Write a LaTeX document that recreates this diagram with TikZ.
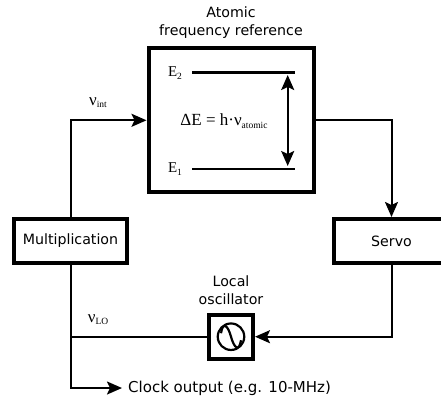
\documentclass[tikz,border=0pt]{standalone}
\usepackage{fontspec}
\setmainfont{DejaVu Sans}
\newfontfamily\levelfont{Liberation Serif}
\usepackage{tikz}
\usetikzlibrary{arrows.meta}

\newcommand{\lowtext}[1]{\raisebox{-2.5pt}{\fontsize{9.5}{9.5}\selectfont #1}}

\begin{document}
\begin{tikzpicture}[x=1pt, y=-1pt, font=\fontsize{14.2}{18}\selectfont,
  block/.style={draw=black, line width=4pt, fill=white, align=center, inner sep=0pt},
  label/.style={align=center, inner sep=0pt},
  level/.style={label, font=\levelfont\fontsize{15}{15}\selectfont},
  bigsym/.style={label, font=\levelfont\fontsize{17}{17}\selectfont},
  wire/.style={line width=2pt},
  tip/.style={-{Stealth[length=15pt, width=13pt, inset=3pt]}},
  arr/.style={wire, tip},
  levelline/.style={line width=2.8pt}]
\path[use as bounding box, clip] (0,0) rectangle (441,399);

\node[block, minimum width=165pt, minimum height=144pt] (ref) at (231,120.3) {};
\node[block, minimum width=113pt, minimum height=44pt] (mult) at (70.5,241) {Multiplication};
\node[block, minimum width=115pt, minimum height=44pt] (servo) at (391.5,241) {Servo};
\node[block, minimum width=44pt, minimum height=44pt] (osc) at (231,336.7) {};

\node[label] (title) at (231,22.5) {Atomic\\frequency reference};
\node[label] (osctitle) at (231,290) {Local\\oscillator};
\node[label, anchor=west, font=\fontsize{15}{18}\selectfont] (clock) at (128,388) {Clock output (e.g. 10-MHz)};

\node[bigsym] (vint) at (98,102.5) {ν\lowtext{int}};
\node[bigsym] (vlo) at (98,319.5) {ν\lowtext{LO}};
\node[level] (etwo) at (175,73) {E\lowtext{2}};
\node[level] (eone) at (175,169) {E\lowtext{1}};
\node[bigsym] (gap) at (224,121) {ΔE = h·ν\lowtext{atomic}};

% energy levels
\coordinate (etwol) at (192,72.7); \coordinate (etwor) at (295,72.7);
\coordinate (eonel) at (192,169); \coordinate (eoner) at (295,169);
\draw[levelline] (etwol) -- (etwor);
\draw[levelline] (eonel) -- (eoner);
\coordinate (gapt) at (287.7,75); \coordinate (gapb) at (287.7,166);
\draw[wire, {Stealth[length=15pt, width=13pt, inset=3pt]}-{Stealth[length=15pt, width=13pt, inset=3pt]}] (gapt) -- (gapb);

% loop
\draw[arr] (mult.north) |- (ref.west);
\draw[arr] (ref.east) -| (servo.north);
\draw[arr] (servo.south) |- (osc.east);
\draw[wire] (osc.west) -| (mult.south);
\draw[arr] (mult.south) |- ([xshift=-6pt]clock.west);

% oscillator symbol
\node[draw=black, line width=2.2pt, circle, minimum size=26.5pt, inner sep=0pt] (sine) at (osc.center) {};
\draw[line width=2.2pt] ([xshift=-10pt, yshift=3.5pt]sine.center) .. controls +(2,-12.5) and +(-3,-11) .. (sine.center) .. controls +(3,11) and +(-2,12.5) .. ([xshift=10pt, yshift=-3.5pt]sine.center);
\end{tikzpicture}
\end{document}
